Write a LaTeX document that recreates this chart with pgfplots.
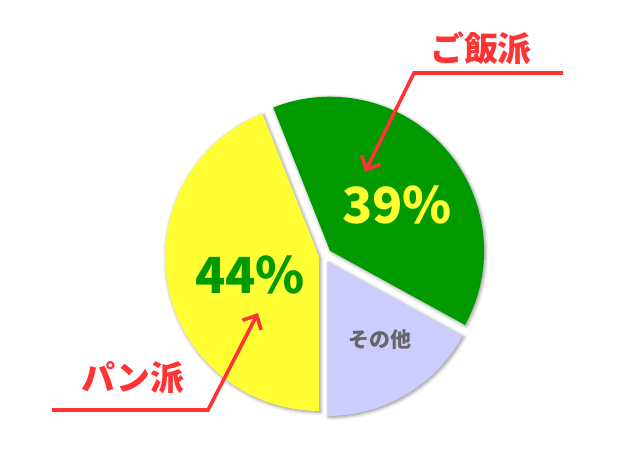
\documentclass[border=0pt]{standalone}
\usepackage{fontspec}
\setmainfont{Noto Sans CJK JP}
\usepackage{pgfplots}
\pgfplotsset{compat=1.18}
\usepackage{pgfplotstable}
\usetikzlibrary{arrows.meta,calc,shadows.blur}

\definecolor{panyellow}{HTML}{FFFF33}
\definecolor{gohangreen}{HTML}{009900}
\definecolor{otherblue}{HTML}{CCCCFF}
\definecolor{callred}{HTML}{FF3333}
\definecolor{othertext}{HTML}{666666}

% share in %, explode distance in bp
\pgfplotstableread{
share explode
44 5
39 8
17 7
}\piedata

\pgfplotstablegetelem{0}{share}\of\piedata \let\sharepan\pgfplotsretval
\pgfplotstablegetelem{1}{share}\of\piedata \let\sharegohan\pgfplotsretval
\pgfplotstablegetelem{2}{share}\of\piedata \let\shareother\pgfplotsretval
\pgfplotstablegetelem{0}{explode}\of\piedata \let\explpan\pgfplotsretval
\pgfplotstablegetelem{1}{explode}\of\piedata \let\explgohan\pgfplotsretval
\pgfplotstablegetelem{2}{explode}\of\piedata \let\explother\pgfplotsretval

\pgfmathsetmacro\panend{270}
\pgfmathsetmacro\panstart{\panend-3.6*\sharepan}
\pgfmathsetmacro\gohanstart{\panstart-3.6*\sharegohan}
\pgfmathsetmacro\otherstart{\gohanstart-3.6*\shareother}
\pgfmathsetmacro\panmid{(\panstart+\panend)/2}
\pgfmathsetmacro\gohanmid{(\gohanstart+\panstart)/2}
\pgfmathsetmacro\othermid{(\otherstart+\gohanstart)/2}

\tikzset{slice/.style={blur shadow={shadow xshift=1.2pt, shadow yshift=-1.2pt,
  shadow blur radius=3.5pt, shadow opacity=45}},
  callout/.style={callred, line width=3.6pt,
  -{Straight Barb[length=11pt,width=21pt,line width=3.6pt]}}}

\begin{document}
\begin{tikzpicture}
\begin{axis}[
  width=624bp, height=468bp, scale only axis,
  xmin=0, xmax=624, ymin=0, ymax=468,
  axis line style={draw=none}, xtick=\empty, ytick=\empty,
  clip=false]
  % slices
  \fill[panyellow, slice] ($(axis cs:324,212)+(\panmid:\explpan bp)$) -- ++(\panstart:154bp)
    arc[start angle=\panstart, end angle=\panend, radius=154bp] -- cycle;
  \fill[gohangreen, slice] ($(axis cs:324,212)+(\gohanmid:\explgohan bp)$) -- ++(\gohanstart:154bp)
    arc[start angle=\gohanstart, end angle=\panstart, radius=154bp] -- cycle;
  \fill[otherblue, slice] ($(axis cs:324,212)+(\othermid:\explother bp)$) -- ++(\otherstart:154bp)
    arc[start angle=\otherstart, end angle=\gohanstart, radius=154bp] -- cycle;
  % labels
  \node[panyellow, font=\fontsize{50}{50}\selectfont\bfseries] at (axis cs:397,263) {39\%};
  \node[gohangreen, font=\fontsize{50}{50}\selectfont\bfseries] at (axis cs:250,193) {44\%};
  \node[othertext, font=\fontsize{21}{21}\selectfont\bfseries] at (axis cs:380,128) {その他};
  % callouts
  \node[callred, font=\fontsize{34}{34}\selectfont\bfseries] at (axis cs:481,420) {ご飯派};
  \node[callred, font=\fontsize{34}{34}\selectfont\bfseries] at (axis cs:133,90) {パン派};
  \draw[callout] (axis cs:563,395) -- (axis cs:414,395) -- (axis cs:365,296);
  \draw[callout] (axis cs:52,58) -- (axis cs:208,58) -- (axis cs:258,155);
\end{axis}
\end{tikzpicture}
\end{document}
